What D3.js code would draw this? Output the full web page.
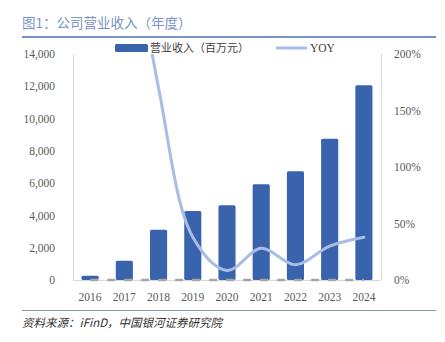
<!DOCTYPE html>
<html>
<head>
<meta charset="utf-8">
<script src="https://cdn.jsdelivr.net/npm/d3@7/dist/d3.min.js"></script>
<style>
  html, body { margin: 0; padding: 0; background: #fff; }
  svg { display: block; }
</style>
</head>
<body>
<svg id="chart" width="445" height="342"></svg>
<script>
// Annual revenue (million yuan) and year-over-year growth
const years = ["2016", "2017", "2018", "2019", "2020", "2021", "2022", "2023", "2024"];
const revenue = [265, 1190, 3120, 4270, 4630, 5930, 6730, 8750, 12060];
const yoy = [null, 3.51, 1.70, 0.38, 0.085, 0.28, 0.135, 0.30, 0.378];
const zeroSeries = [0, 0, 0, 0, 0, 0, 0, 0, 0];
const leftTicks = [0, 2000, 4000, 6000, 8000, 10000, 12000, 14000];
const rightTicks = [0, 0.5, 1, 1.5, 2];

const svg = d3.select("#chart");
const plot = { left: 73, right: 381, top: 54, bottom: 280 };
const serif = "'Liberation Serif', 'DejaVu Serif', 'Noto Sans CJK SC', serif";
const cjk = "'Noto Sans CJK SC', sans-serif";

// Title and rules
svg.append("text").attr("x", 22).attr("y", 28)
  .attr("font-family", cjk).attr("font-size", 13.5).attr("fill", "#7b93c6")
  .text("图1：公司营业收入（年度）");
svg.append("line").attr("x1", 22).attr("x2", 436).attr("y1", 37).attr("y2", 37)
  .attr("stroke", "#4a70b8").attr("stroke-width", 1.5);
svg.append("line").attr("x1", 22).attr("x2", 436).attr("y1", 310.5).attr("y2", 310.5)
  .attr("stroke", "#7f95c0").attr("stroke-width", 1.2);
svg.append("text").attr("x", 22).attr("y", 327)
  .attr("font-family", cjk).attr("font-size", 11.5).attr("font-style", "italic")
  .attr("fill", "#333")
  .text("资料来源：iFinD，中国银河证券研究院");

// Scales
const x = d3.scaleBand().domain(years).range([plot.left, plot.right]).paddingInner(0.5).paddingOuter(0.25);
const yL = d3.scaleLinear().domain([0, 14000]).range([plot.bottom, plot.top]);
const yR = d3.scaleLinear().domain([0, 2]).range([plot.bottom, plot.top]);

// Axis frame lines
svg.append("g").attr("stroke", "#d9d9d9").attr("stroke-width", 1)
  .call(g => {
    g.append("line").attr("x1", plot.left + 0.5).attr("x2", plot.left + 0.5).attr("y1", plot.top).attr("y2", plot.bottom);
    g.append("line").attr("x1", plot.right + 0.5).attr("x2", plot.right + 0.5).attr("y1", plot.top).attr("y2", plot.bottom);
    g.append("line").attr("x1", plot.left).attr("x2", plot.right).attr("y1", plot.bottom + 0.5).attr("y2", plot.bottom + 0.5);
  });

// Left axis
const axL = svg.append("g").attr("transform", `translate(${plot.left - 15},0)`)
  .call(d3.axisLeft(yL).tickValues(leftTicks).tickSize(0).tickFormat(d3.format(",")));
axL.select(".domain").remove();
axL.selectAll("text").attr("font-family", serif).attr("font-size", 11.5).attr("fill", "#595959");

// Right axis
const axR = svg.append("g").attr("transform", `translate(${plot.right + 13},0)`)
  .call(d3.axisRight(yR).tickValues(rightTicks).tickSize(0).tickFormat(d3.format(".0%")));
axR.select(".domain").remove();
axR.selectAll("text").attr("font-family", serif).attr("font-size", 11.5).attr("fill", "#595959").attr("x", 0);

// Bottom axis
const axB = svg.append("g").attr("transform", `translate(0,${plot.bottom + 10})`)
  .call(d3.axisBottom(x).tickSize(0));
axB.select(".domain").remove();
axB.selectAll("text").attr("font-family", serif).attr("font-size", 11.5).attr("fill", "#595959");

// Revenue bars
svg.append("g").selectAll("rect").data(years).join("rect")
  .attr("x", d => x(d))
  .attr("width", x.bandwidth())
  .attr("y", (d, i) => yL(revenue[i]))
  .attr("height", (d, i) => yL(0) - yL(revenue[i]))
  .attr("rx", 1.5)
  .attr("fill", "#3a63ad");

// Zero reference series (dashed)
svg.append("path")
  .datum(zeroSeries)
  .attr("d", d3.line().x((d, i) => x(years[i]) + x.bandwidth() / 2).y(d => yR(d)))
  .attr("fill", "none").attr("stroke", "#a6a6a6").attr("stroke-width", 2.6)
  .attr("stroke-dasharray", "8,9");

// YOY smoothed line, clipped to the plot area
svg.append("clipPath").attr("id", "plotClip").append("rect")
  .attr("x", plot.left).attr("y", plot.top).attr("width", plot.right - plot.left).attr("height", plot.bottom - plot.top);
const yoyPts = years.map((yr, i) => ({ yr, v: yoy[i] })).filter(d => d.v !== null);
svg.append("path")
  .datum(yoyPts)
  .attr("clip-path", "url(#plotClip)")
  .attr("d", d3.line().curve(d3.curveCatmullRom.alpha(0.5))
    .x(d => x(d.yr) + x.bandwidth() / 2).y(d => yR(d.v)))
  .attr("fill", "none").attr("stroke", "#a7bde6").attr("stroke-width", 3)
  .attr("stroke-linecap", "round");

// Legend
const lg = svg.append("g");
lg.append("rect").attr("x", 115).attr("y", 44).attr("width", 33).attr("height", 8).attr("rx", 1.5).attr("fill", "#3a63ad");
lg.append("text").attr("x", 150).attr("y", 52).attr("font-family", cjk).attr("font-size", 11).attr("fill", "#404040")
  .text("营业收入（百万元）");
lg.append("line").attr("x1", 276).attr("x2", 307).attr("y1", 48).attr("y2", 48)
  .attr("stroke", "#a7bde6").attr("stroke-width", 3);
lg.append("text").attr("x", 310).attr("y", 52).attr("font-family", serif).attr("font-size", 11.5).attr("fill", "#404040")
  .text("YOY");
</script>
</body>
</html>
